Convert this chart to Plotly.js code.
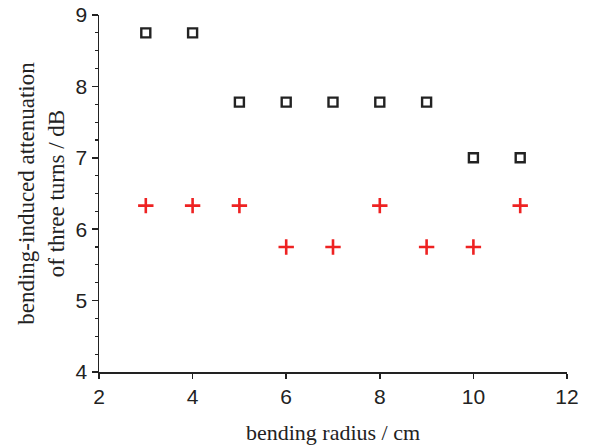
<!DOCTYPE html>
<html>
<head>
<meta charset="utf-8">
<script src="https://cdn.plot.ly/plotly-3.0.1.min.js"></script>
<style>html,body{margin:0;padding:0;background:#fff;}#chart{width:599px;height:445px;}</style>
</head>
<body>
<div id="chart"></div>
<script>
const radius = [3, 4, 5, 6, 7, 8, 9, 10, 11];
const blackSeries = [8.75, 8.75, 7.78, 7.78, 7.78, 7.78, 7.78, 7.0, 7.0];
const redSeries = [6.33, 6.33, 6.33, 5.75, 5.75, 6.33, 5.75, 5.75, 6.33];
const xTicks = [2, 4, 6, 8, 10, 12];
const yTicks = [4, 5, 6, 7, 8, 9];

const traces = [
  {
    x: radius, y: blackSeries, type: 'scatter', mode: 'markers',
    marker: {symbol: 'square-open', size: 9, color: '#222', line: {width: 2.4, color: '#222'}},
    showlegend: false, cliponaxis: false
  },
  {
    x: radius, y: redSeries, type: 'scatter', mode: 'markers',
    marker: {symbol: 'cross-thin', size: 11, color: '#ee2222', line: {width: 2.6, color: '#ee2222'}},
    showlegend: false, cliponaxis: false
  }
];

const layout = {
  width: 599, height: 445,
  margin: {l: 99, r: 32, t: 15, b: 73},
  paper_bgcolor: '#fff', plot_bgcolor: '#fff',
  xaxis: {
    range: [2, 12], tickvals: xTicks, ticktext: xTicks.map(String),
    showgrid: false, zeroline: false, showline: true, linecolor: '#222', linewidth: 1.5,
    ticks: 'outside', ticklen: 5, tickwidth: 1.5, tickcolor: '#222',
    tickfont: {family: 'Liberation Sans, Arial, sans-serif', size: 21, color: '#222'},
    title: {text: 'bending radius / cm', standoff: 18,
      font: {family: 'Liberation Serif, Times New Roman, serif', size: 22, color: '#222'}}
  },
  yaxis: {
    range: [4, 9], tickvals: yTicks, ticktext: yTicks.map(String),
    showgrid: false, zeroline: false, showline: true, linecolor: '#222', linewidth: 1.5,
    ticks: 'outside', ticklen: 6, tickwidth: 1.5, tickcolor: '#222',
    minor: {dtick: 0.25, ticks: 'outside', ticklen: 3, tickwidth: 1.2, tickcolor: '#222', showgrid: false},
    tickfont: {family: 'Liberation Sans, Arial, sans-serif', size: 21, color: '#222'},
    title: {text: 'bending-induced attenuation<br>of three turns / dB', standoff: 4,
      font: {family: 'Liberation Serif, Times New Roman, serif', size: 23, color: '#222'}}
  }
};

Plotly.newPlot('chart', traces, layout, {displayModeBar: false, staticPlot: true});
</script>
</body>
</html>
